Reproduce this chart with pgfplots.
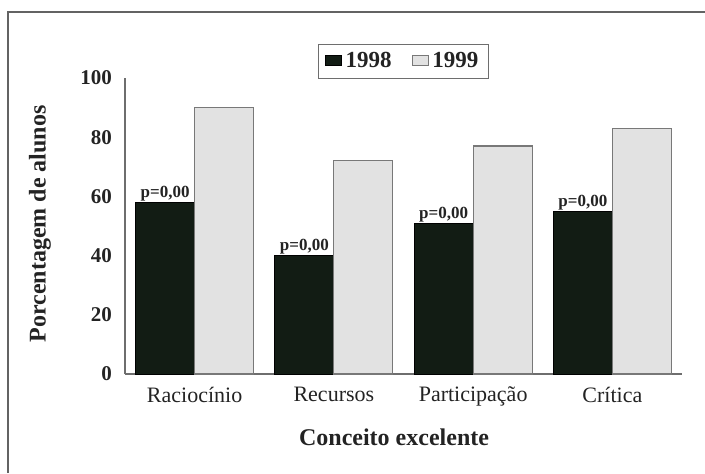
\documentclass[border=0pt]{standalone}
\usepackage{pgfplots}
\pgfplotsset{compat=1.18}
\usepackage{fontspec}
\setmainfont{Liberation Serif}
\definecolor{darkbar}{RGB}{18,28,20}
\definecolor{lightbar}{RGB}{226,226,226}
\definecolor{lightedge}{RGB}{120,120,120}
\definecolor{axisgray}{RGB}{110,110,110}
\definecolor{txt}{RGB}{35,35,35}
\begin{document}
\begin{tikzpicture}
\path[use as bounding box] (0,0) rectangle (352.5pt,236.5pt);
\draw[color=axisgray!90!black, line width=1pt] (4pt,0) -- (4pt,230.5pt) -- (352.5pt,230.5pt);
\begin{axis}[
  at={(62.5pt,49.5pt)}, anchor=south west,
  scale only axis, width=278.5pt, height=148pt,
  xmin=-0.5, xmax=3.5, ymin=0, ymax=100,
  axis lines=left,
  axis line style={-, color=axisgray, line width=0.6pt},
  ybar=0pt, bar width=29.5pt,
  xtick={0,1,2,3},
  xticklabels={Raciocínio,Recursos,Participação,Crítica},
  ytick={0,20,40,60,80,100},
  major tick length=0pt,
  /pgf/number format/assume math mode=true,
  yticklabel style={font=\fontsize{10.5}{12}\selectfont\bfseries, text=txt, xshift=-3pt},
  xticklabel style={font=\fontsize{11}{13}\selectfont, text=txt, yshift=-3pt},
  xlabel={Conceito excelente},
  xlabel style={at={(axis description cs:0.483,-0.243)}, anchor=base, font=\fontsize{12}{14}\selectfont\bfseries, text=txt},
  ylabel={Porcentagem de alunos},
  ylabel style={at={(axis description cs:-0.1526,0.507)}, anchor=center, font=\fontsize{12}{14}\selectfont\bfseries, text=txt},
  legend columns=2,
  legend style={at={(axis description cs:0.5,1.056)}, anchor=center, draw=axisgray, line width=0.6pt, font=\fontsize{11.5}{13}\selectfont\bfseries, text=txt, inner xsep=3pt, inner ysep=2pt, /tikz/every even column/.append style={column sep=8pt}},
  legend image code/.code={\draw[#1, line width=0.4pt] (0pt,-2.2pt) rectangle (8pt,2.8pt);},
]
\addplot[fill=darkbar, draw=black, line width=0.5pt,
  nodes near coords={p=0,00},
  every node near coord/.append style={font=\fontsize{8.5}{10}\selectfont\bfseries, text=txt, yshift=-3pt}]
  coordinates {(0,58) (1,40) (2,51) (3,55)};
\addplot[fill=lightbar, draw=lightedge, line width=0.6pt]
  coordinates {(0,90) (1,72) (2,77) (3,83)};
\legend{1998,1999}
\end{axis}
\end{tikzpicture}
\end{document}
